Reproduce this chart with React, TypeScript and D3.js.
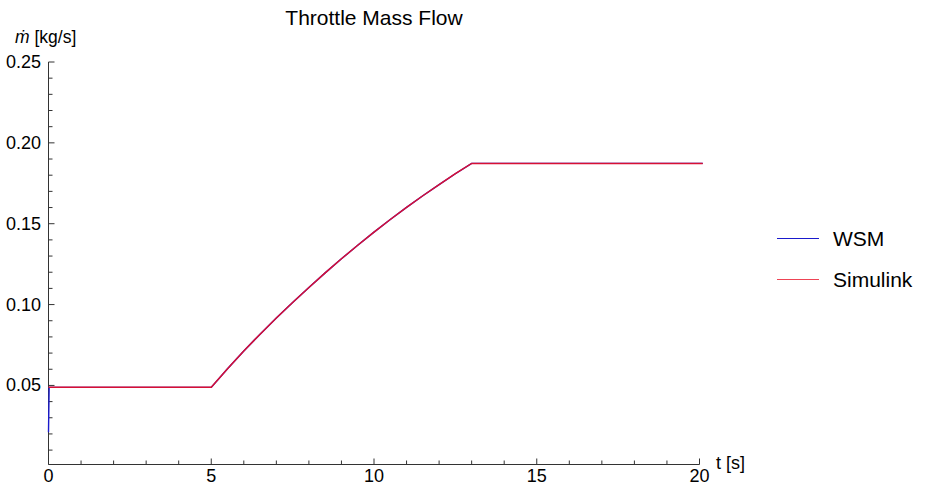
import React, { useEffect, useRef } from 'react';
import * as d3 from 'd3';

// WSM trace (blue), starts with a short transient at t=0
const wsmTime = [0, 0.02, 5, 5.5, 6, 6.5, 7, 7.5, 8, 8.5, 9, 9.5, 10, 10.5, 11, 11.5, 12, 12.5, 13, 20.1];
const wsmFlow = [0.021, 0.0488, 0.0488, 0.0603, 0.0713, 0.0817, 0.0917, 0.1013, 0.1106, 0.1196, 0.1283, 0.1367, 0.1448, 0.1526, 0.1601, 0.1673, 0.1742, 0.1809, 0.1873, 0.1873];

// Simulink trace (red), drawn on top
const simTime = [0, 5, 5.5, 6, 6.5, 7, 7.5, 8, 8.5, 9, 9.5, 10, 10.5, 11, 11.5, 12, 12.5, 13, 20.1];
const simFlow = [0.0488, 0.0488, 0.0603, 0.0713, 0.0817, 0.0917, 0.1013, 0.1106, 0.1196, 0.1283, 0.1367, 0.1448, 0.1526, 0.1601, 0.1673, 0.1742, 0.1809, 0.1873, 0.1873];

const xTicks = [0, 5, 10, 15, 20];
const yTicks = [0.05, 0.1, 0.15, 0.2, 0.25];
const yTickLabels = ['0.05', '0.10', '0.15', '0.20', '0.25'];

const seriesNames = ['WSM', 'Simulink'];
const seriesColors = ['#1a1acc', '#d81034'];

const App = () => {
    const ref = useRef<SVGSVGElement>(null);

    useEffect(() => {
        const svg = d3.select(ref.current);
        svg.selectAll('*').remove();

        const font = 'Liberation Sans, Arial, sans-serif';
        const axisColor = '#333';

        const x = d3.scaleLinear().domain([0, 20]).range([48.5, 699.5]);
        const y = d3.scaleLinear().domain([0.0011, 0.25]).range([464.5, 62]);

        // axes lines
        svg.append('line')
            .attr('x1', x(0)).attr('x2', x(20))
            .attr('y1', y.range()[0]).attr('y2', y.range()[0])
            .attr('stroke', axisColor).attr('stroke-width', 1);
        svg.append('line')
            .attr('x1', x(0)).attr('x2', x(0))
            .attr('y1', y.range()[0]).attr('y2', y(0.25))
            .attr('stroke', axisColor).attr('stroke-width', 1);

        // x ticks, minor every 1
        const xMinor = d3.range(1, 20).filter(v => v % 5 !== 0);
        svg.append('g').selectAll('line').data(xMinor).join('line')
            .attr('x1', d => x(d)).attr('x2', d => x(d))
            .attr('y1', 464.5).attr('y2', 460.5)
            .attr('stroke', axisColor);
        svg.append('g').selectAll('line').data(xTicks).join('line')
            .attr('x1', d => x(d)).attr('x2', d => x(d))
            .attr('y1', 464.5).attr('y2', 458.5)
            .attr('stroke', axisColor);
        svg.append('g').selectAll('text').data(xTicks).join('text')
            .attr('x', d => x(d)).attr('y', 482)
            .attr('text-anchor', 'middle')
            .attr('font-family', font).attr('font-size', 18)
            .text(d => d);

        // y ticks, minor every 0.01
        const yMinor = d3.range(1, 25).filter(v => v % 5 !== 0).map(v => v / 100);
        svg.append('g').selectAll('line').data(yMinor).join('line')
            .attr('x1', 48.5).attr('x2', 52.5)
            .attr('y1', d => y(d)).attr('y2', d => y(d))
            .attr('stroke', axisColor);
        svg.append('g').selectAll('line').data(yTicks).join('line')
            .attr('x1', 48.5).attr('x2', 54.5)
            .attr('y1', d => y(d)).attr('y2', d => y(d))
            .attr('stroke', axisColor);
        svg.append('g').selectAll('text').data(yTicks).join('text')
            .attr('x', 41).attr('y', d => y(d) + 6)
            .attr('text-anchor', 'end')
            .attr('font-family', font).attr('font-size', 18)
            .text((d, i) => yTickLabels[i]);

        // axis labels and title
        const yLab = svg.append('text')
            .attr('x', 15).attr('y', 43)
            .attr('font-family', font).attr('font-size', 17.5);
        yLab.append('tspan').attr('font-style', 'italic').text('ṁ');
        yLab.append('tspan').text(' [kg/s]');

        svg.append('text')
            .attr('x', 716).attr('y', 469)
            .attr('font-family', font).attr('font-size', 18)
            .text('t [s]');

        svg.append('text')
            .attr('x', 374).attr('y', 25)
            .attr('text-anchor', 'middle')
            .attr('font-family', font).attr('font-size', 21)
            .text('Throttle Mass Flow');

        // series
        const line = d3.line<[number, number]>()
            .x(d => x(d[0]))
            .y(d => y(d[1]));

        const wsm = wsmTime.map((t, i) => [t, wsmFlow[i]] as [number, number]);
        const sim = simTime.map((t, i) => [t, simFlow[i]] as [number, number]);

        svg.append('path').datum(wsm)
            .attr('d', line)
            .attr('fill', 'none')
            .attr('stroke', seriesColors[0])
            .attr('stroke-width', 1.4);
        svg.append('path').datum(sim)
            .attr('d', line)
            .attr('fill', 'none')
            .attr('stroke', seriesColors[1])
            .attr('stroke-width', 1.5);

        // legend
        const legend = svg.append('g').selectAll('g').data(seriesNames).join('g')
            .attr('transform', (d, i) => `translate(0, ${238.5 + i * 41})`);
        legend.append('line')
            .attr('x1', 777).attr('x2', 819)
            .attr('y1', 0).attr('y2', 0)
            .attr('stroke', (d, i) => i === 0 ? seriesColors[0] : '#ee4455')
            .attr('stroke-width', 1);
        legend.append('text')
            .attr('x', 833).attr('y', 7)
            .attr('font-family', font).attr('font-size', 21)
            .text(d => d);
    }, []);

    return (
        <svg ref={ref} width={939} height={486}
            style={{ position: 'absolute', left: 0, top: 0, background: '#fff' }} />
    );
};

export default App;
